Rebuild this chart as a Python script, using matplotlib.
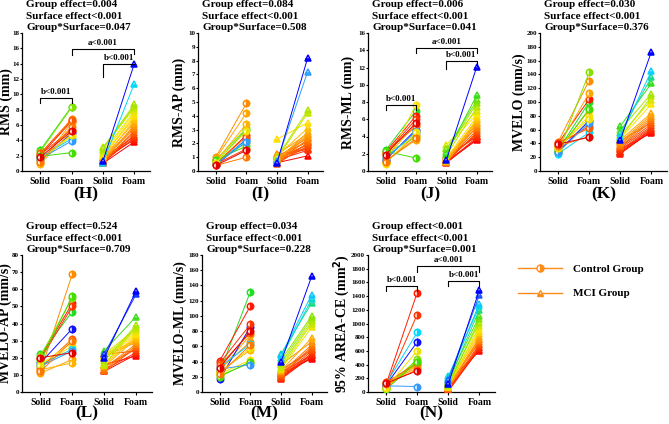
import matplotlib
matplotlib.use("Agg")
import matplotlib.pyplot as plt
from matplotlib.colors import LinearSegmentedColormap, Normalize
from matplotlib.lines import Line2D

plt.rcParams["font.family"] = "Liberation Serif"
plt.rcParams["font.weight"] = "bold"
plt.rcParams["axes.labelweight"] = "bold"

# per-subject colours of the control group (same subjects in every panel)
ctrl_cols = ['#22dd22', '#ff8c00', '#ff1a00', '#ffe000', '#ffa500', '#1010ff',
             '#ff3300', '#88e000', '#00d8ff', '#ffb300', '#ff5a00', '#44dd00',
             '#3399ff', '#f0e000', '#ff7700', '#e60000']
mci_cmap = LinearSegmentedColormap.from_list(
    "rb", [(0, '#ff0000'), (0.18, '#ff8000'), (0.35, '#ffe600'), (0.5, '#99e600'),
           (0.62, '#33dd22'), (0.75, '#00d8ff'), (0.87, '#3399ff'), (1.0, '#0000ff')])

labels = ["Solid", "Foam", "Solid", "Foam"]

# ---------------- data ----------------
rms_ctrl_solid = [2.7, 2.2, 2.0, 1.6, 1.0, 1.4, 2.1, 2.5, 1.8, 0.9, 2.3, 1.9, 1.6, 1.5, 1.2, 1.8]
rms_ctrl_foam = [8.4, 6.8, 6.5, 4.5, 6.3, 4.9, 5.4, 8.3, 4.2, 5.2, 6.6, 2.4, 3.9, 4.7, 5.8, 5.2]
rms_mci_solid = [1.3, 1.1, 3.0, 2.8, 3.1, 2.5, 2.2, 1.9, 2.0, 1.5, 1.8, 1.2, 1.6, 1.4, 1.1, 1.3,
                 1.0, 1.7, 1.2, 1.5, 1.0, 1.3]
rms_mci_foam = [14.0, 11.4, 8.7, 8.5, 8.2, 7.8, 7.5, 7.2, 6.9, 6.6, 6.3, 6.0, 5.8, 5.6, 5.3, 5.0,
                4.7, 4.5, 4.3, 4.1, 3.8, 4.6]

ap_ctrl_solid = [0.6, 1.0, 0.5, 0.7, 0.9, 0.4, 0.5, 0.8, 0.6, 0.7, 0.5, 0.8, 0.5, 0.6, 0.4, 0.4]
ap_ctrl_foam = [3.0, 4.9, 2.6, 2.0, 4.2, 2.3, 1.6, 3.1, 2.2, 3.4, 2.5, 1.8, 2.1, 2.9, 1.0, 1.5]
ap_mci_solid = [0.6, 0.7, 1.0, 0.9, 2.3, 1.1, 0.8, 1.2, 0.9, 0.7, 1.0, 0.6, 0.8, 1.1, 0.7, 0.9,
                0.6, 1.2, 1.0, 0.8, 0.6, 0.5]
ap_mci_foam = [8.2, 7.2, 4.4, 4.2, 3.5, 3.1, 2.8, 2.7, 2.6, 2.5, 2.4, 2.3, 2.2, 2.1, 2.0, 1.9,
               1.8, 1.6, 1.6, 1.5, 1.1, 2.0]

ml_ctrl_solid = [2.4, 1.0, 2.2, 0.8, 1.2, 1.3, 2.0, 2.1, 1.6, 1.5, 2.2, 2.3, 1.4, 0.9, 1.1, 1.9]
ml_ctrl_foam = [7.0, 4.2, 6.4, 7.7, 3.6, 4.8, 6.0, 3.9, 4.4, 5.5, 5.2, 1.5, 4.6, 4.5, 3.8, 5.6]
ml_mci_solid = [1.3, 2.0, 2.5, 2.2, 1.8, 3.0, 2.7, 1.5, 1.2, 1.4, 1.0, 1.1, 1.6, 1.3, 1.0, 1.2,
                1.4, 0.9, 1.1, 1.0, 1.7, 1.3]
ml_mci_foam = [12.1, 8.8, 8.2, 7.9, 7.4, 7.0, 6.6, 6.3, 6.0, 5.8, 5.5, 5.2, 5.0, 4.7, 4.5, 4.3,
               4.1, 3.9, 3.7, 3.6, 4.0, 5.6]

mv_ctrl_solid = [30, 42, 40, 33, 35, 28, 38, 26, 25, 31, 41, 29, 27, 34, 36, 39]
mv_ctrl_foam = [100, 131, 104, 80, 113, 73, 65, 143, 56, 88, 62, 90, 70, 76, 50, 49]
mv_mci_solid = [45, 50, 55, 65, 60, 48, 52, 47, 45, 42, 40, 38, 36, 35, 33, 30, 28, 26, 25, 27, 32, 44]
mv_mci_foam = [173, 145, 136, 127, 112, 108, 103, 97, 84, 81, 78, 75, 72, 68, 65, 63, 61, 60, 58,
               57, 55, 70]

mvap_ctrl_solid = [22, 12, 20, 15, 11, 17, 19, 21, 16, 13, 14, 18, 15, 16, 12, 20]
mvap_ctrl_foam = [47, 69, 52, 27, 19, 37, 50, 55, 25, 17, 31, 56, 24, 29, 30, 23]
mvap_mci_solid = [20, 22, 24, 18, 16, 22, 21, 20, 19, 17, 16, 15, 22, 21, 14, 13, 12, 15, 22, 13, 12, 16]
mvap_mci_foam = [59, 57, 44, 39, 38, 37, 36, 35, 34, 33, 32, 31, 30, 29, 28, 27, 26, 25, 24, 23, 22, 21]

mvml_ctrl_solid = [26, 30, 41, 24, 28, 17, 38, 22, 33, 27, 35, 20, 30, 25, 23, 32]
mvml_ctrl_foam = [132, 66, 113, 42, 75, 86, 89, 38, 63, 55, 78, 40, 36, 58, 62, 80]
mvml_mci_solid = [40, 48, 45, 50, 42, 38, 35, 32, 30, 28, 36, 25, 23, 22, 20, 19, 18, 17, 21, 24, 26, 29]
mvml_mci_foam = [152, 128, 122, 117, 100, 97, 93, 90, 85, 71, 66, 62, 59, 57, 54, 51, 49, 47, 45,
                 44, 48, 55]

area_ctrl_solid = [60, 130, 110, 80, 150, 100, 90, 50, 120, 70, 140, 40, 90, 60, 110, 130]
area_ctrl_foam = [470, 400, 1450, 450, 350, 730, 1130, 480, 870, 390, 420, 440, 80, 600, 330, 310]
area_mci_solid = [120, 180, 200, 230, 150, 170, 100, 140, 90, 80, 130, 110, 70, 60, 100, 50, 30, 20,
                  10, 40, 150, 80]
area_mci_foam = [1490, 1420, 1290, 1250, 1200, 1110, 1060, 1010, 960, 920, 880, 840, 800, 760, 730,
                 700, 680, 660, 640, 620, 600, 780]

panels = [
    dict(tag="(H)", ylabel="RMS (mm)", ymax=18, step=2,
         stats=["=0.004", "<0.001", "=0.047"],
         data=(rms_ctrl_solid, rms_ctrl_foam, rms_mci_solid, rms_mci_foam),
         brackets=[(1, 2, 8.9, 8.9, 9.5, "b<0.001"), (3, 4, 12.2, 13.9, 13.9, "b<0.001"),
                   (2, 4, 15.1, 15.3, 15.9, "a<0.001")],
         pos=[22, 33, 128, 138], gap=9),
    dict(tag="(I)", ylabel="RMS-AP (mm)", ymax=10, step=1,
         stats=["=0.084", "<0.001", "=0.508"],
         data=(ap_ctrl_solid, ap_ctrl_foam, ap_mci_solid, ap_mci_foam),
         brackets=[], pos=[198, 33, 125, 138], gap=12),
    dict(tag="(J)", ylabel="RMS-ML (mm)", ymax=16, step=2,
         stats=["=0.006", "<0.001", "=0.041"],
         data=(ml_ctrl_solid, ml_ctrl_foam, ml_mci_solid, ml_mci_foam),
         brackets=[(1, 2, 7.07, 7.07, 7.65, "b<0.001"), (3, 4, 11.8, 12.2, 12.75, "b<0.001"),
                   (2, 4, 13.7, 13.7, 14.3, "a<0.001")],
         pos=[368, 33, 124, 138], gap=13),
    dict(tag="(K)", ylabel="MVELO (mm/s)", ymax=200, step=20,
         stats=["=0.030", "<0.001", "=0.376"],
         data=(mv_ctrl_solid, mv_ctrl_foam, mv_mci_solid, mv_mci_foam),
         brackets=[], pos=[540, 33, 127, 138], gap=14),
    dict(tag="(L)", ylabel="MVELO-AP (mm/s)", ymax=80, step=10,
         stats=["=0.524", "<0.001", "=0.709"],
         data=(mvap_ctrl_solid, mvap_ctrl_foam, mvap_mci_solid, mvap_mci_foam),
         brackets=[], pos=[22, 255, 130, 137], gap=10),
    dict(tag="(M)", ylabel="MVELO-ML (mm/s)", ymax=180, step=20,
         stats=["=0.034", "<0.001", "=0.228"],
         data=(mvml_ctrl_solid, mvml_ctrl_foam, mvml_mci_solid, mvml_mci_foam),
         brackets=[], pos=[202, 255, 125, 137], gap=15),
    dict(tag="(N)", ylabel="95% AREA-CE (mm$^\\mathbf{2}$)", ymax=2000, step=200,
         stats=["<0.001", "<0.001", "=0.001"],
         data=(area_ctrl_solid, area_ctrl_foam, area_mci_solid, area_mci_foam),
         brackets=[(1, 2, 1474, 1474, 1547, "b<0.001"), (3, 4, 1547, 1547, 1616, "b<0.001"),
                   (2, 4, 1752, 1752, 1835, "a<0.001")],
         pos=[368, 255, 127, 137], gap=16),
]

W, H = 669, 424
fig = plt.figure(figsize=(W / 100, H / 100), dpi=100)

for p in panels:
    x0, y0, w, h = p["pos"]
    ax = fig.add_axes([x0 / W, 1 - (y0 + h) / H, w / W, h / H])
    cs, cf, ms, mf = p["data"]

    for i in range(len(cs)):
        col = ctrl_cols[i % len(ctrl_cols)]
        ax.plot([1, 2], [cs[i], cf[i]], color=col, lw=0.7, marker='o', ms=4.6,
                fillstyle='right', markerfacecoloralt='white', mew=1.1, zorder=3)

    norm = Normalize(min(mf), max(mf))
    order = sorted(range(len(mf)), key=lambda k: mf[k])
    for i in order:
        col = mci_cmap(norm(mf[i]))
        ax.plot([3, 4], [ms[i], mf[i]], color=col, lw=0.7, marker='^', ms=5,
                fillstyle='bottom', markerfacecoloralt='white', mew=1.1, zorder=3)

    ax.set_xlim(0.42, 4.5)
    ax.set_ylim(0, p["ymax"])
    ax.set_yticks(range(0, p["ymax"] + 1, p["step"]))
    ax.set_xticks([1, 2, 3, 4])
    ax.set_xticklabels(labels, fontsize=7)
    ax.tick_params(axis='y', labelsize=5, length=1.6, width=0.8, pad=0.6)
    ax.tick_params(axis='x', length=2.5, width=0.8, pad=2)
    ax.spines["top"].set_visible(False)
    ax.spines["right"].set_visible(False)
    for s in ["left", "bottom"]:
        ax.spines[s].set_linewidth(0.9)
    ax.set_ylabel(p["ylabel"], fontsize=10)
    ax.yaxis.set_label_coords(-p["gap"] / w, 0.5)

    names = ["Group effect", "Surface effect", "Group*Surface"]
    for k, (nm, st) in enumerate(zip(names, p["stats"])):
        ax.annotate(nm + st, xy=(0, 1), xycoords='axes fraction',
                    xytext=(3, 3.6 + (2 - k) * 8.5), textcoords='offset points',
                    ha='left', va='center', fontsize=8)

    tag_off = -17 if y0 < 100 else -15.5
    ax.annotate(p["tag"], xy=(0.5, 0), xycoords='axes fraction',
                xytext=(0, tag_off), textcoords='offset points',
                ha='center', va='center', fontsize=12.5)

    for (xa, xb, ya, yb, top, txt) in p["brackets"]:
        ax.plot([xa, xa, xb, xb], [ya, top, top, yb], color='k', lw=0.8,
                clip_on=False, zorder=4)
        ax.annotate(txt, xy=((xa + xb) / 2, top), xytext=(0, 1.5),
                    textcoords='offset points', ha='center', va='bottom', fontsize=6.5)

handles = [
    Line2D([], [], color='#ff8c1a', lw=1, marker='o', ms=5, fillstyle='right',
           markerfacecoloralt='white'),
    Line2D([], [], color='#ff8c1a', lw=1, marker='^', ms=5, fillstyle='bottom',
           markerfacecoloralt='white'),
]
fig.legend(handles, ["Control Group", "MCI Group"], loc='upper left',
           bbox_to_anchor=(0.76, 0.40), frameon=False, fontsize=8,
           handlelength=3.9, handletextpad=1.0, labelspacing=1.3)

fig.savefig("out.png", dpi=100)
